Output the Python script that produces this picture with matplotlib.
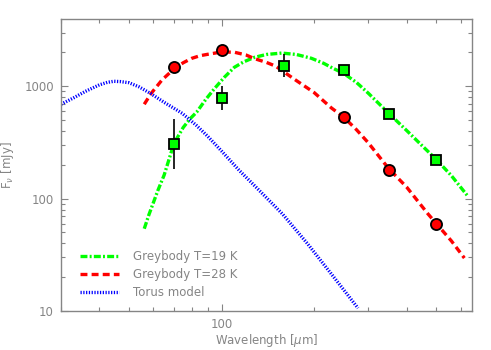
import matplotlib
matplotlib.use("Agg")
import matplotlib.pyplot as plt
from matplotlib.ticker import FixedLocator, FixedFormatter, NullFormatter, LogLocator

plt.rcParams['font.family'] = ['DejaVu Sans']
plt.rcParams['mathtext.fontset'] = 'dejavusans'
plt.rcParams['lines.scale_dashes'] = False

grey = '#858585'

# greybody T=19 K
wl_19 = [56, 58, 62, 65, 70, 75, 79, 83, 89, 95, 102, 110, 118, 128, 140, 157, 175, 196, 215, 230, 250, 275, 300, 350, 400, 450, 500, 560, 630]
fl_19 = [54, 72, 118, 162, 311, 430, 515, 590, 770, 960, 1200, 1475, 1650, 1810, 1920, 1975, 1920, 1775, 1600, 1450, 1300, 1080, 870, 575, 405, 295, 223, 160, 107]

# greybody T=28 K
wl_28 = [56, 59, 64, 70, 75, 80, 85, 90, 100, 110, 120, 128, 140, 150, 173, 200, 228, 250, 275, 300, 350, 400, 470, 500, 560, 617]
fl_28 = [692, 866, 1140, 1430, 1620, 1774, 1870, 1925, 2020, 2010, 1900, 1762, 1630, 1510, 1150, 880, 640, 530, 410, 315, 185, 127, 73, 60, 42, 29.6]

# torus model
wl_tor = [30, 33, 36, 40, 42.5, 44.6, 47, 50, 54, 58.8, 65, 74.4, 82.7, 90, 100, 114, 130, 158, 190, 233, 278]
fl_tor = [692, 790, 900, 1030, 1085, 1108, 1100, 1075, 985, 861, 720, 575, 450, 360, 265, 179, 125, 72.8, 40, 19.7, 10.6]

# data points
wl_sq = [70, 100, 160, 250, 350, 500]
fl_sq = [307, 783, 1515, 1385, 565, 221]
err_lo = [307 - 183, 783 - 612, 1515 - 1210, 0, 0, 0]
err_hi = [516 - 307, 1000 - 783, 1925 - 1515, 0, 0, 0]

wl_ci = [70, 100, 250, 350, 500]
fl_ci = [1470, 2120, 532, 181, 60]

fig = plt.figure(figsize=(4.91, 3.5), dpi=100)
ax = fig.add_axes([0.1242, 0.1114, 0.962 - 0.1242, 0.945 - 0.1114])

ax.plot(wl_19, fl_19, color='#00ff00', lw=2.4, dashes=(5, 1.6, 1.4, 1.6), label='Greybody T=19 K', zorder=2)
ax.plot(wl_28, fl_28, color='#ff0000', lw=2.4, dashes=(5, 3), label='Greybody T=28 K', zorder=2)
ax.plot(wl_tor, fl_tor, color='#0000ff', lw=2.4, dashes=(0.9, 1.1), label='Torus model', zorder=2)

ax.errorbar(wl_sq, fl_sq, yerr=[err_lo, err_hi], fmt='none', ecolor='black', elinewidth=1.2, capsize=0, zorder=3)
ax.plot(wl_sq, fl_sq, 's', ms=7, mfc='#00ff00', mec='black', mew=1.3, zorder=4)
ax.plot(wl_ci, fl_ci, 'o', ms=8, mfc='#ff0000', mec='black', mew=1.3, zorder=4)

ax.set_xscale('log')
ax.set_yscale('log')
ax.set_xlim(30, 655)
ax.set_ylim(10, 3950)

ax.xaxis.set_major_locator(FixedLocator([100]))
ax.xaxis.set_major_formatter(FixedFormatter(['100']))
ax.xaxis.set_minor_locator(FixedLocator([30, 40, 50, 60, 70, 80, 90, 200, 300, 400, 500, 600]))
ax.xaxis.set_minor_formatter(NullFormatter())
ax.yaxis.set_major_locator(FixedLocator([10, 100, 1000]))
ax.yaxis.set_major_formatter(FixedFormatter(['10', '100', '1000']))
ax.yaxis.set_minor_locator(LogLocator(base=10, subs=range(2, 10)))
ax.yaxis.set_minor_formatter(NullFormatter())

ax.tick_params(which='both', direction='in', top=True, right=True, color=grey, labelcolor=grey, labelsize=8.5, width=0.8)
ax.tick_params(which='major', length=5, pad=5)
ax.tick_params(which='minor', length=3)
for s in ax.spines.values():
    s.set_color(grey)
    s.set_linewidth(1.0)

ax.set_xlabel('Wavelength [$\\mu$m]', color=grey, fontsize=8.5, labelpad=1)
ax.set_ylabel('F$_\\nu$ [mJy]', color=grey, fontsize=8.5, labelpad=6)

leg = ax.legend(loc='lower left', bbox_to_anchor=(0.02, 0.005), frameon=False, fontsize=8.5,
                handlelength=3.3, handletextpad=1.2, labelspacing=0.4)
for t in leg.get_texts():
    t.set_color(grey)

fig.savefig('out.png', dpi=100)
